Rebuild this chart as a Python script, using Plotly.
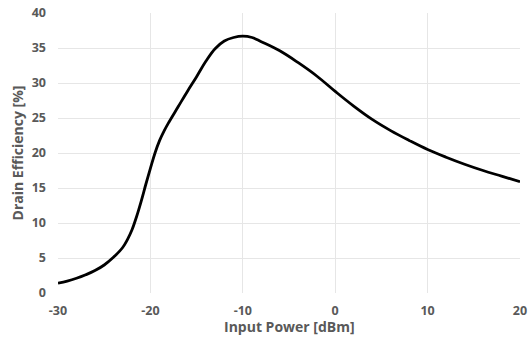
import plotly.graph_objects as go

input_power = [-30, -29, -28, -27, -26, -25, -24, -23, -22.5, -22, -21.5, -21, -20.5, -20, -19.5, -19, -18.5, -18, -17, -16, -15, -14, -13, -12, -11, -10, -9, -8, -6, -4, -2, 0, 2, 4, 6, 8, 10, 12, 14, 16, 18, 20]
drain_eff = [1.4, 1.7, 2.1, 2.6, 3.2, 4.0, 5.1, 6.5, 7.6, 9.0, 10.9, 13.1, 15.5, 17.8, 20.0, 21.8, 23.2, 24.4, 26.6, 28.8, 30.9, 33.1, 34.9, 36.0, 36.5, 36.7, 36.5, 35.9, 34.6, 32.9, 31.0, 28.8, 26.7, 24.8, 23.2, 21.8, 20.5, 19.4, 18.4, 17.5, 16.7, 15.9]

x_ticks = [-30, -20, -10, 0, 10, 20]
y_ticks = [0, 5, 10, 15, 20, 25, 30, 35, 40]
x_title = "Input Power [dBm]"
y_title = "Drain Efficiency [%]"

fig = go.Figure()
fig.add_trace(go.Scatter(
    x=input_power, y=drain_eff, mode="lines",
    line=dict(color="black", width=2.8, shape="spline", smoothing=1.1),
    showlegend=False, hoverinfo="skip", cliponaxis=False))

font_family = "Open Sans, Liberation Sans, sans-serif"
grey = "#595959"
tick_font = dict(size=12.5, family=font_family, weight="bold", color=grey)
fig.update_layout(
    width=529, height=345,
    margin=dict(l=58, r=9, t=13, b=52),
    paper_bgcolor="white", plot_bgcolor="white",
    font=dict(family=font_family, color=grey),
)
fig.update_xaxes(
    range=[-30, 20], tickvals=x_ticks, ticktext=[str(v) for v in x_ticks],
    showgrid=True, gridcolor="#e6e6e6", gridwidth=1, zeroline=False,
    showline=False, ticks="", tickfont=tick_font, ticklabelstandoff=8,
    ticklabeloverflow="allow", automargin=False,
)
fig.update_yaxes(
    range=[0, 40], tickvals=y_ticks, ticktext=[str(v) for v in y_ticks],
    showgrid=True, gridcolor="#e6e6e6", gridwidth=1, zeroline=False,
    showline=False, ticks="", tickfont=tick_font, ticklabelstandoff=11,
    ticklabeloverflow="allow", automargin=False,
    title=dict(text="<b>" + y_title + "</b>", font=dict(size=14, color=grey), standoff=4),
)
fig.add_annotation(
    text="<b>" + x_title + "</b>", xref="paper", yref="paper",
    x=0.5, y=-33 / 280, xanchor="center", yanchor="middle", showarrow=False,
    font=dict(size=14, color=grey, family=font_family), borderpad=0,
)
fig.write_html("out.html", post_script="document.body.style.margin='0';",
               config={"displayModeBar": False})
